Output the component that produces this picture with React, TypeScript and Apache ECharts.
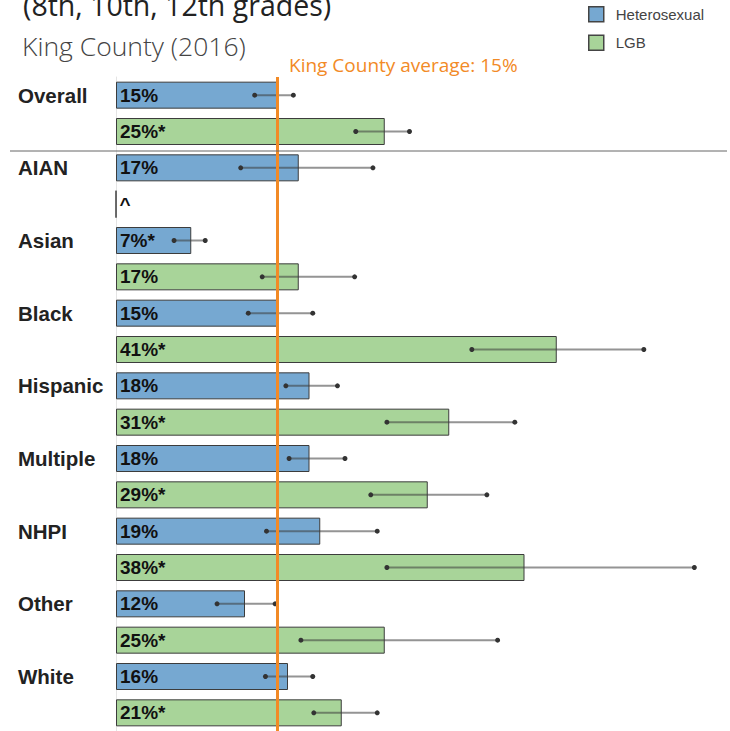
import React, { useEffect, useRef } from "react";
import * as echarts from "echarts";

const groups = ["Overall", "AIAN", "Asian", "Black", "Hispanic", "Multiple", "NHPI", "Other", "White"];
const hetValues = [15, 17, 7, 15, 18, 18, 19, 12, 16];
const lgbValues: (number | null)[] = [25, null, 17, 41, 31, 29, 38, 25, 21];
const hetLabels = ["15%", "17%", "7%*", "15%", "18%", "18%", "19%", "12%", "16%"];
const lgbLabels = ["25%*", "^", "17%", "41%*", "31%*", "29%*", "38%*", "25%*", "21%*"];
const hetLow = [12.9, 11.6, 5.4, 12.3, 15.8, 16.1, 14.0, 9.4, 13.9];
const hetHigh = [16.5, 23.9, 8.3, 18.3, 20.6, 21.3, 24.3, 14.8, 18.3];
const lgbLow: (number | null)[] = [22.3, null, 13.6, 33.1, 25.2, 23.7, 25.2, 17.2, 18.4];
const lgbHigh: (number | null)[] = [27.3, null, 22.2, 49.1, 37.1, 34.5, 53.8, 35.5, 24.3];
const countyAverage = 15;

const SANS = "'Liberation Sans', Arial, sans-serif";
const OPEN = "'Open Sans', 'Noto Sans', sans-serif";

export default function App() {
  const ref = useRef<HTMLDivElement>(null);
  useEffect(() => {
    if (!ref.current) return;
    const chart = echarts.init(ref.current, undefined, { renderer: "svg" });

    const rows: string[] = [];
    groups.forEach((g) => {
      rows.push(g + "|h");
      rows.push(g + "|l");
    });
    const hetData: any[] = [];
    const lgbData: any[] = [];
    groups.forEach((g, i) => {
      hetData.push(hetValues[i]);
      hetData.push("-");
      lgbData.push("-");
      lgbData.push(lgbValues[i] === null ? 0 : lgbValues[i]);
    });
    const errData: any[] = [];
    groups.forEach((g, i) => {
      errData.push([hetLow[i], hetHigh[i], i * 2]);
      if (lgbLow[i] !== null && lgbHigh[i] !== null) errData.push([lgbLow[i], lgbHigh[i], i * 2 + 1]);
    });

    const labelStyle = {
      show: true,
      position: "insideLeft",
      distance: 4,
      fontFamily: SANS,
      fontWeight: "bold",
      fontSize: 19,
      color: "#111",
    };

    chart.setOption({
      animation: false,
      backgroundColor: "#fff",
      grid: { left: 116, top: 77, width: 602, height: 660 },
      legend: {
        data: ["Heterosexual", "LGB"],
        orient: "vertical",
        left: 583,
        top: 1,
        itemWidth: 15,
        itemHeight: 15,
        itemGap: 12,
        icon: "rect",
        itemStyle: { borderColor: "#444", borderWidth: 1.5 },
        textStyle: { fontFamily: SANS, fontSize: 15, color: "#444", padding: [0, 0, 0, 7] },
      },
      xAxis: { type: "value", min: 0, max: 56, show: false },
      yAxis: {
        type: "category",
        inverse: true,
        data: rows,
        axisTick: { show: false },
        axisLine: { show: true, lineStyle: { color: "#e4e4e4", width: 1 } },
        axisLabel: {
          align: "left",
          margin: 98,
          fontFamily: SANS,
          fontWeight: "bold",
          fontSize: 20.5,
          color: "#222",
          formatter: (v: string) => (v.endsWith("|h") ? v.split("|")[0] : ""),
        },
      },
      series: [
        {
          name: "Heterosexual",
          type: "bar",
          data: hetData,
          barWidth: 27,
          barGap: "-100%",
          itemStyle: { color: "#76a8d1", borderColor: "#3c3c3c", borderWidth: 1 },
          label: { ...labelStyle, formatter: (p: any) => hetLabels[Math.floor(p.dataIndex / 2)] },
          markLine: {
            silent: true,
            symbol: "none",
            label: { show: false },
            lineStyle: { color: "#f28a26", width: 3, type: "solid" },
            data: [{ xAxis: countyAverage }],
            z: 10,
          },
        },
        {
          name: "LGB",
          type: "bar",
          data: lgbData,
          barWidth: 27,
          barGap: "-100%",
          itemStyle: { color: "#a8d499", borderColor: "#3c3c3c", borderWidth: 1 },
          label: {
            ...labelStyle,
            formatter: (p: any) => lgbLabels[Math.floor(p.dataIndex / 2)],
          },
        },
        {
          type: "custom",
          z: 5,
          silent: true,
          dimensions: ["low", "high", "row"],
          encode: { x: [0, 1], y: 2 },
          data: errData,
          renderItem: (params: any, api: any) => {
            const row = api.value(2);
            const p1 = api.coord([api.value(0), row]);
            const p2 = api.coord([api.value(1), row]);
            return {
              type: "group",
              children: [
                {
                  type: "line",
                  shape: { x1: p1[0], y1: p1[1], x2: p2[0], y2: p2[1] },
                  style: { stroke: "rgba(60,60,60,0.55)", lineWidth: 2 },
                },
                { type: "circle", shape: { cx: p1[0], cy: p1[1], r: 2.5 }, style: { fill: "#333" } },
                { type: "circle", shape: { cx: p2[0], cy: p2[1], r: 2.5 }, style: { fill: "#333" } },
              ],
            };
          },
        },
      ],
      graphic: [
        {
          type: "text",
          left: 23,
          top: -10,
          style: { text: "(8th, 10th, 12th grades)", fontFamily: OPEN, fontSize: 28.5, fontWeight: 500, fill: "#222" },
        },
        {
          type: "text",
          left: 22,
          top: 32,
          style: { text: "King County (2016)", fontFamily: OPEN, fontSize: 26.5, fontWeight: 300, fill: "#444" },
        },
        {
          type: "text",
          left: 289,
          top: 55,
          style: { text: "King County average: 15%", fontFamily: OPEN, fontSize: 19, fill: "#f28a26" },
        },
        {
          type: "line",
          shape: { x1: 10, y1: 151, x2: 727, y2: 151 },
          style: { stroke: "#666", lineWidth: 1 },
          z: 20,
        },
      ],
    });
    return () => chart.dispose();
  }, []);
  return <div ref={ref} style={{ position: "absolute", left: 0, top: 0, width: 730, height: 731 }} />;
}
